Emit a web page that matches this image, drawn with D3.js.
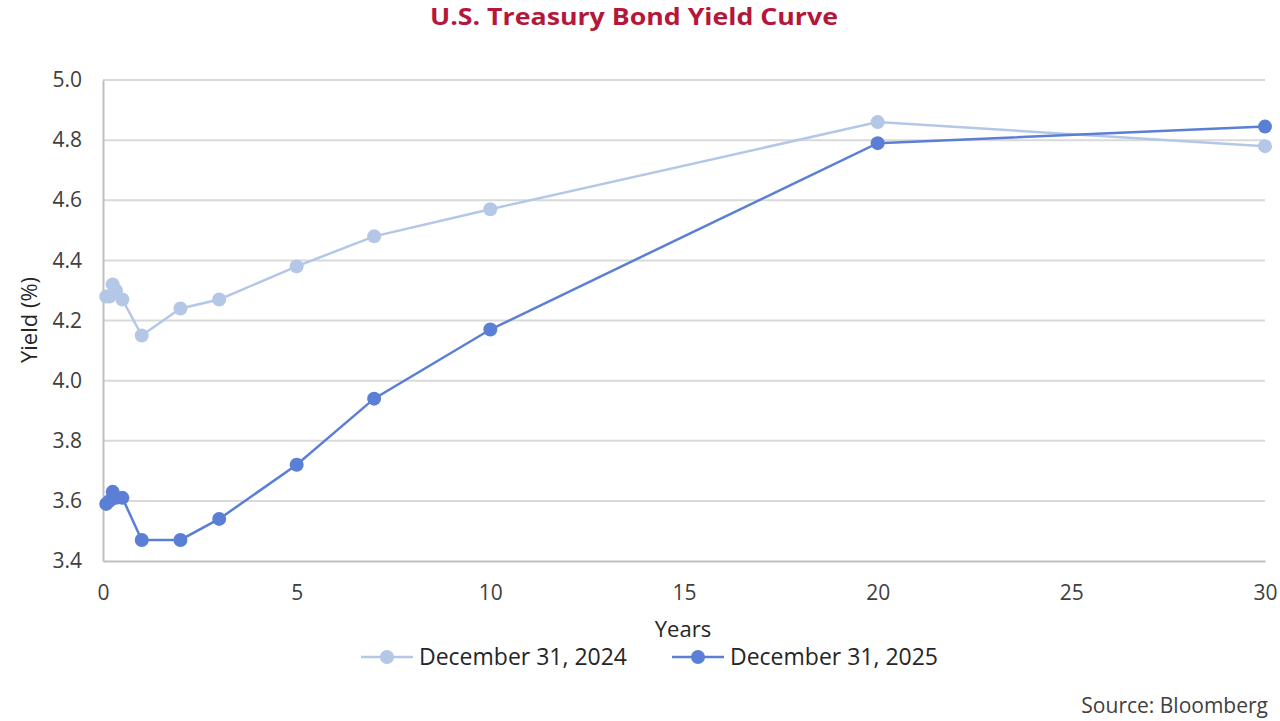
<!DOCTYPE html>
<head>
  <meta charset="utf-8">
  <script src="https://cdn.jsdelivr.net/npm/d3@7/dist/d3.min.js"></script>
  <style>
    body { margin:0; background:#fff; }
    text { font-family: "Open Sans", "Noto Sans", sans-serif; }
  </style>
</head>
<body>
  <svg width="1280" height="721"></svg>
  <script>
    // maturities in years: 1M 2M 3M 4M 6M 1Y 2Y 3Y 5Y 7Y 10Y 20Y 30Y
    var maturities = [1/12, 2/12, 3/12, 4/12, 0.5, 1, 2, 3, 5, 7, 10, 20, 30];
    var yields2024 = [4.28, 4.28, 4.32, 4.30, 4.27, 4.15, 4.24, 4.27, 4.38, 4.48, 4.57, 4.86, 4.78];
    var yields2025 = [3.59, 3.60, 3.63, 3.61, 3.61, 3.47, 3.47, 3.54, 3.72, 3.94, 4.17, 4.79, 4.845];
    var seriesNames = ["December 31, 2024", "December 31, 2025"];
    var seriesColors = ["#b4c7e7", "#5b7fd4"];
    var xTicks = [0, 5, 10, 15, 20, 25, 30];
    var yTicks = [3.4, 3.6, 3.8, 4.0, 4.2, 4.4, 4.6, 4.8, 5.0];

    var svg = d3.select("svg");
    var plotL = 103, plotR = 1265, plotT = 80, plotB = 561;

    var x = d3.scaleLinear().domain([0, 30]).range([plotL, plotR]);
    var y = d3.scaleLinear().domain([3.4, 5.0]).range([plotB, plotT]);

    // title
    svg.append("text")
      .attr("x", 634).attr("y", 25)
      .attr("text-anchor", "middle")
      .attr("font-size", 24).attr("font-weight", "bold")
      .attr("fill", "#b5173a")
      .attr("textLength", 408).attr("lengthAdjust", "spacingAndGlyphs")
      .text("U.S. Treasury Bond Yield Curve");

    // gridlines
    svg.append("g").selectAll("line")
      .data(yTicks.slice(1))
      .enter().append("line")
        .attr("x1", plotL).attr("x2", plotR)
        .attr("y1", function (d) { return y(d); })
        .attr("y2", function (d) { return y(d); })
        .attr("stroke", "#d9d9d9").attr("stroke-width", 2);

    // axes
    var yAxis = svg.append("g")
      .attr("transform", "translate(" + plotL + ",0)")
      .call(d3.axisLeft(y).tickValues(yTicks).tickFormat(d3.format(".1f")).tickSize(0).tickPadding(21));
    yAxis.select(".domain").attr("stroke", "#bfbfbf").attr("stroke-width", 2);

    var xAxis = svg.append("g")
      .attr("transform", "translate(0," + plotB + ")")
      .call(d3.axisBottom(x).tickValues(xTicks).tickSize(0).tickPadding(24));
    xAxis.select(".domain").attr("stroke", "#bfbfbf").attr("stroke-width", 2);

    svg.selectAll(".tick text")
      .attr("font-size", 21).attr("fill", "#404040")
      .style("font-family", "'Open Sans', sans-serif");

    // axis titles
    svg.append("text")
      .attr("x", 683).attr("y", 637)
      .attr("text-anchor", "middle")
      .attr("font-size", 22).attr("fill", "#262626")
      .text("Years");
    svg.append("text")
      .attr("transform", "translate(37,320) rotate(-90)")
      .attr("text-anchor", "middle")
      .attr("font-size", 22).attr("fill", "#262626")
      .text("Yield (%)");

    // series
    var series = [yields2024, yields2025];
    var line = d3.line()
      .x(function (d) { return x(d[0]); })
      .y(function (d) { return y(d[1]); });

    series.forEach(function (vals, i) {
      var pts = maturities.map(function (m, j) { return [m, vals[j]]; });
      svg.append("path")
        .datum(pts)
        .attr("fill", "none")
        .attr("stroke", seriesColors[i])
        .attr("stroke-width", 2.5)
        .attr("d", line);
      svg.append("g").selectAll("circle")
        .data(pts)
        .enter().append("circle")
          .attr("cx", function (d) { return x(d[0]); })
          .attr("cy", function (d) { return y(d[1]); })
          .attr("r", 7)
          .attr("fill", seriesColors[i]);
    });

    // legend
    var legendX = [361, 672];
    seriesNames.forEach(function (name, i) {
      var g = svg.append("g").attr("transform", "translate(" + legendX[i] + ",657)");
      g.append("line").attr("x1", 0).attr("x2", 52).attr("y1", 0).attr("y2", 0)
        .attr("stroke", seriesColors[i]).attr("stroke-width", 2.5);
      g.append("circle").attr("cx", 26).attr("cy", 0).attr("r", 7).attr("fill", seriesColors[i]);
      g.append("text").attr("x", 58).attr("y", 8)
        .attr("font-size", 23).attr("fill", "#262626")
        .text(name);
    });

    // source
    svg.append("text")
      .attr("x", 1268).attr("y", 713)
      .attr("text-anchor", "end")
      .attr("font-size", 21).attr("fill", "#404040")
      .text("Source: Bloomberg");
  </script>
</body>
